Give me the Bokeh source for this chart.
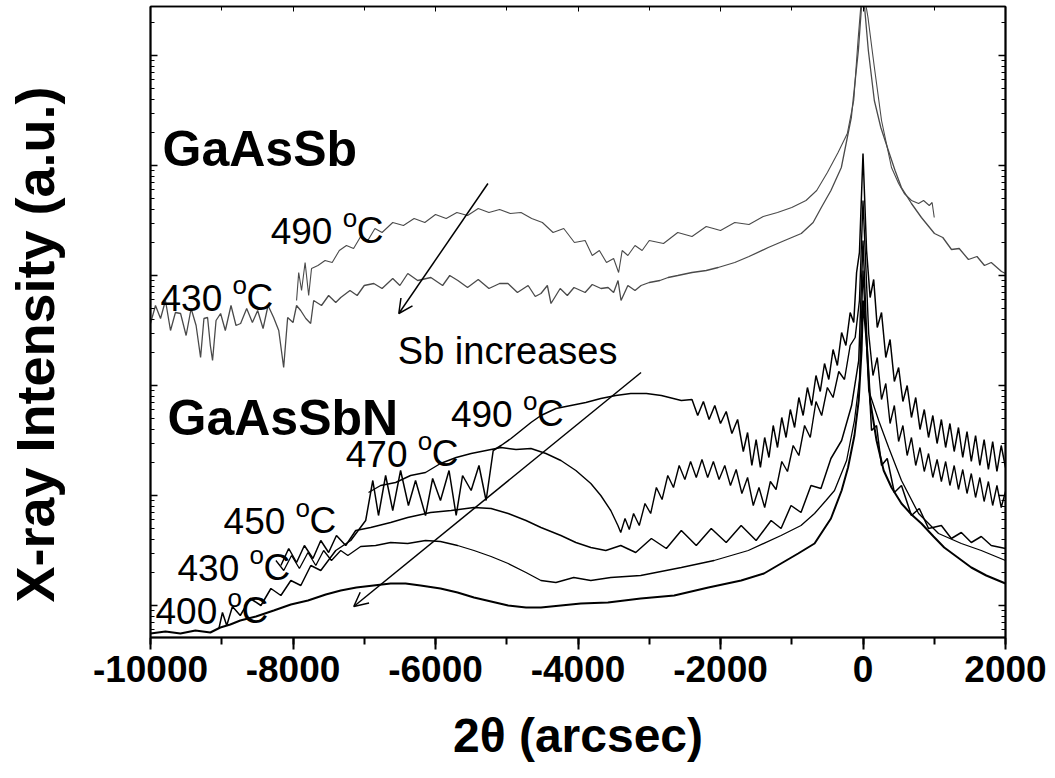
import numpy as np
from bokeh.plotting import figure
from bokeh.models import Range1d, LinearAxis, FixedTicker, Label, Arrow, OpenHead
from bokeh.embed import file_html
from bokeh.resources import INLINE

# ---------------- data (2theta in arcsec, intensity in a.u.) ----------------
GAASSB_490 = [(-7950,337),(-7920,365),(-7880,347),(-7830,375),(-7780,342),(-7740,369),(-7650,372),(-7550,377),
    (-7450,375),(-7350,387),(-7250,392),(-7150,389),(-7050,401),(-6950,397),(-6850,409),(-6750,405),(-6600,415),
    (-6450,412),(-6300,419),(-6150,415),(-6000,423),(-5850,419),(-5700,425),(-5550,422),(-5400,429),(-5250,425),
    (-5100,428),(-4950,424),(-4800,425),(-4650,419),(-4500,415),(-4350,405),(-4200,409),(-4050,395),(-3900,397),
    (-3800,382),(-3700,387),(-3600,375),(-3500,379),(-3430,365),(-3380,387),(-3300,382),(-3200,392),(-3100,387),
    (-3000,397),(-2800,394),(-2600,405),(-2400,401),(-2200,411),(-2000,407),(-1800,415),(-1600,413),(-1400,421),
    (-1200,425),(-1000,430),(-800,437),(-650,447),(-500,465),(-350,485),(-220,504),(-130,537),(-70,597),(-30,632),
    (0,667),(30,637),(70,620),(120,592),(160,570),(260,517),(400,470),(500,454),(580,444),(680,437),(780,434),
    (850,437),(930,432),(970,435),(1000,420)]

GAASSB_430 = [(-10000,314),(-9930,332),(-9859,319),(-9790,337),(-9719,307),(-9650,325),(-9578,324),(-9500,302),
    (-9430,329),(-9360,312),(-9297,280),(-9250,319),(-9199,320),(-9160,292),(-9129,277),(-9080,317),(-9016,324),
    (-8950,307),(-8870,332),(-8800,312),(-8735,314),(-8650,329),(-8570,315),(-8496,327),(-8420,309),(-8350,332),
    (-8272,320),(-8200,307),(-8131,270),(-8075,320),(-8000,315),(-7950,332),(-7892,327),(-7820,319),(-7752,314),
    (-7710,337),(-7600,332),(-7500,342),(-7400,335),(-7330,340),(-7200,347),(-7100,342),(-7000,352),(-6866,354),
    (-6750,349),(-6600,359),(-6500,352),(-6389,364),(-6250,357),(-6065,360),(-5900,352),(-5800,362),(-5686,357),
    (-5550,350),(-5400,358),(-5250,349),(-5100,354),(-4983,354),(-4850,345),(-4700,352),(-4600,341),(-4520,344),
    (-4430,352),(-4379,334),(-4250,349),(-4150,342),(-4056,350),(-3900,345),(-3800,353),(-3677,349),(-3578,350),
    (-3500,345),(-3438,357),(-3396,337),(-3300,352),(-3200,347),(-3115,352),(-3000,355),(-2850,357),(-2735,360),
    (-2600,362),(-2400,365),(-2200,367),(-2033,370),(-1800,375),(-1600,381),(-1330,390),(-1100,397),(-866,404),
    (-700,415),(-585,430),(-450,447),(-304,470),(-164,520),(-65,587),(-20,632),(0,677),(20,632),(75,587),(159,537),
    (250,510),(356,487),(450,467),(539,450),(680,434),(820,420),(1003,404),(1120,400),(1242,388),(1350,389),
    (1480,378),(1600,381),(1705,372),(1800,375),(1944,366),(2000,364)]

GAASSBN_490 = [(-9040,9),(-8990,25),(-8930,12),(-8850,31),(-8740,22),(-8600,39),(-8450,32),(-8310,49),(-8170,42),
    (-8030,57),(-7890,52),(-7750,72),(-7610,67),(-7400,87),(-7190,97),(-6980,117),(-6880,157),(-6800,122),(-6700,162),
    (-6600,127),(-6490,167),(-6380,132),(-6280,157),(-6140,122),(-6040,159),(-5930,137),(-5810,167),(-5710,122),
    (-5620,162),(-5500,147),(-5390,172),(-5290,137),(-5190,187),(-5080,192),(-4940,199),(-4800,207),(-4660,215),
    (-4520,222),(-4310,229),(-4100,232),(-3890,235),(-3680,239),(-3470,242),(-3260,244),(-3040,244),(-2830,242),
    (-2550,237),(-2400,238),(-2320,222),(-2240,236),(-2160,218),(-2080,232),(-2000,214),(-1920,226),(-1840,204),
    (-1760,218),(-1680,186),(-1620,205),(-1560,172),(-1500,198),(-1440,170),(-1380,200),(-1320,180),(-1260,212),
    (-1200,190),(-1140,220),(-1080,200),(-1020,228),(-960,210),(-900,240),(-840,222),(-780,250),(-720,232),
    (-660,262),(-600,246),(-540,274),(-480,258),(-420,288),(-360,272),(-300,305),(-240,292),(-180,325),(-130,315),
    (-90,365),(-50,385),(0,484),(50,387),(100,340),(150,358),(200,310),(260,325),(320,280),(380,298),(440,256),
    (500,270),(560,236),(620,252),(680,220),(740,240),(800,208),(860,228),(920,200),(980,222),(1040,194),(1100,218),
    (1160,190),(1220,214),(1280,186),(1340,210),(1400,180),(1460,206),(1520,176),(1580,202),(1640,172),(1700,198),
    (1760,168),(1820,196),(1880,166),(1940,192),(2000,170)]

GAASSBN_470 = [(-6940,145),(-6770,152),(-6560,155),(-6350,162),(-6140,165),(-5930,174),(-5710,180),(-5500,184),
    (-5290,187),(-5080,190),(-4870,188),(-4660,189),(-4450,184),(-4240,177),(-4030,167),(-3820,154),(-3680,142),
    (-3540,127),(-3440,112),(-3400,105),(-3340,119),(-3280,108),(-3220,124),(-3140,112),(-3060,134),(-2980,124),
    (-2900,150),(-2820,138),(-2740,162),(-2660,150),(-2580,172),(-2500,158),(-2420,176),(-2340,160),(-2260,178),
    (-2180,160),(-2100,176),(-2020,158),(-1940,172),(-1860,152),(-1780,168),(-1700,144),(-1620,160),(-1540,132),
    (-1460,150),(-1380,130),(-1300,156),(-1220,148),(-1140,176),(-1060,166),(-980,192),(-900,182),(-820,212),
    (-740,200),(-660,236),(-580,222),(-500,250),(-420,240),(-340,266),(-260,258),(-180,292),(-110,300),(-50,337),
    (0,437),(80,304),(140,262),(200,280),(260,238),(320,254),(380,214),(440,232),(500,196),(560,212),(620,182),
    (680,200),(740,172),(800,190),(860,166),(920,184),(980,160),(1040,178),(1100,156),(1160,176),(1220,152),
    (1280,172),(1340,148),(1400,168),(1460,144),(1520,164),(1580,140),(1640,160),(1700,136),(1760,156),(1820,132),
    (1880,152),(1940,130),(2000,146)]

GAASSBN_450 = [(-8170,72),(-8060,89),(-7950,75),(-7840,92),(-7720,79),(-7610,97),(-7500,85),(-7390,102),(-7260,92),
    (-7120,107),(-6910,110),(-6630,115),(-6390,120),(-6070,125),(-5780,127),(-5460,130),(-5220,129),(-4980,124),
    (-4730,117),(-4520,110),(-4240,102),(-4030,95),(-3820,90),(-3610,87),(-3400,92),(-3190,85),(-2970,99),(-2760,89),
    (-2550,107),(-2340,92),(-2130,109),(-1920,95),(-1710,112),(-1500,97),(-1290,117),(-1150,109),(-1010,132),
    (-870,125),(-730,152),(-590,149),(-450,179),(-300,197),(-160,232),(-60,277),(0,397),(60,287),(120,207),(190,212),
    (260,172),(340,179),(440,145),(540,152),(680,122),(790,129),(920,109),(1100,112),(1240,99),(1380,105),(1520,95),
    (1660,101),(1800,92),(2000,89)]

GAASSBN_430 = [(-8240,77),(-8130,67),(-8020,82),(-7910,69),(-7790,85),(-7680,72),(-7570,87),(-7460,77),(-7330,87),
    (-7230,82),(-7050,91),(-6840,92),(-6630,95),(-6390,94),(-6140,97),(-5930,96),(-5690,92),(-5460,87),(-5220,81),
    (-4980,74),(-4730,65),(-4520,57),(-4310,55),(-4060,60),(-3820,57),(-3540,60),(-3120,62),(-2550,70),(-2090,77),
    (-1610,87),(-1150,102),(-870,112),(-680,124),(-520,137),(-400,147),(-230,177),(-120,217),(-50,257),(0,367),
    (80,247),(220,217),(360,190),(540,157),(780,124),(1060,104),(1380,94),(1660,87),(2000,77)]

GAASSBN_400 = [(-10000,4),(-9790,6),(-9580,4),(-9370,7),(-9160,5),(-9020,10),(-8880,13),(-8740,17),(-8520,21),
    (-8270,27),(-8030,33),(-7790,37),(-7540,43),(-7330,47),(-7110,50),(-6870,52),(-6630,54),(-6420,54),(-6210,52),
    (-5930,49),(-5690,45),(-5460,40),(-5220,36),(-4980,32),(-4730,30),(-4520,30),(-4240,32),(-3960,34),(-3580,35),
    (-3120,39),(-2650,42),(-2170,50),(-1710,57),(-1390,64),(-1150,74),(-910,84),(-680,94),(-450,119),(-300,147),
    (-210,170),(-120,202),(-60,237),(-20,287),(0,337),(50,297),(100,237),(190,197),(290,167),(400,150),(540,134),
    (680,123),(820,114),(990,101),(1140,90),(1330,80),(1520,70),(1730,62),(2000,54)]

X_TICKS = [-10000, -8000, -6000, -4000, -2000, 0, 2000]
X_TICK_LABELS = ["-10000", "-8000", "-6000", "-4000", "-2000", "0", "2000"]
X_TITLE = "2\u03b8 (arcsec)"
Y_TITLE = "X-ray Intensity (a.u.)"

# label anchors (2theta, intensity) for the annotations
TEMP_LABELS = [("490", -8314, 407), ("430", -9859, 340), ("490", -5784, 224), ("470", -7260, 184),
               ("450", -8974, 117), ("430", -9621, 70), ("400", -9930, 27)]
GROUP_LABELS = [("GaAsSb", -9831, 489), ("GaAsSbN", -9761, 220)]
NOTE_LABEL = ("Sb increases", -6529, 287)
ARROWS = [(-5264, 454, -6515, 324), (-3115, 265, -7147, 31)]

SANS = "Liberation Sans"

p = figure(frame_width=855, frame_height=631, min_border_left=150, min_border_right=50,
           min_border_top=6, min_border_bottom=141, output_backend="svg", toolbar_location=None,
           x_range=Range1d(-10000, 2000), y_range=Range1d(0, 631))
p.background_fill_color = "white"
p.border_fill_color = "white"
p.outline_line_color = "black"
p.outline_line_width = 1.5
p.grid.visible = False

# bottom axis
xa = p.xaxis[0]
xa.ticker = FixedTicker(ticks=X_TICKS, minor_ticks=list(range(-10000, 2001, 1000)))
xa.major_label_overrides = {t: l for t, l in zip(X_TICKS, X_TICK_LABELS)}
xa.major_label_text_font = SANS
xa.major_label_text_font_style = "bold"
xa.major_label_text_font_size = "37px"
xa.major_label_text_color = "black"
xa.major_label_standoff = 6
xa.axis_line_width = 2
xa.major_tick_out = 12
xa.major_tick_in = 0
xa.minor_tick_out = 7
xa.minor_tick_in = 0
xa.major_tick_line_width = 2
xa.minor_tick_line_width = 2
xa.axis_label = X_TITLE
xa.axis_label_text_font = SANS
xa.axis_label_text_font_style = "bold"
xa.axis_label_text_font_size = "48px"
xa.axis_label_text_color = "black"
xa.axis_label_standoff = 24

# log-like y ticks (styling only)
dec = 110.0
bases = [-78 + dec * k for k in range(7)]
majors = [b for b in bases if 0 < b < 631]
minors = [b + dec * np.log10(m) for b in bases for m in range(2, 10)]
minors = [float(v) for v in minors if 0 < v < 631]
yt = FixedTicker(ticks=majors, minor_ticks=minors)

def hide_labels(ax):
    ax.major_label_text_font_size = "0px"
    ax.major_label_text_color = None
    ax.major_label_standoff = 0

def style_y(ax):
    ax.ticker = yt
    hide_labels(ax)
    ax.major_tick_in = 7
    ax.major_tick_out = 0
    ax.minor_tick_in = 4
    ax.minor_tick_out = 0
    ax.axis_line_width = 2
    ax.major_tick_line_width = 1.5

ya = p.yaxis[0]
style_y(ya)
ya.axis_label = Y_TITLE + "\u00a0\u00a0\u00a0"
ya.axis_label_text_font = SANS
ya.axis_label_text_font_style = "bold"
ya.axis_label_text_font_size = "54px"
ya.axis_label_text_color = "black"
ya.axis_label_standoff = 86

ry = LinearAxis()
style_y(ry)
p.add_layout(ry, "right")

ta = LinearAxis()
ta.ticker = FixedTicker(ticks=X_TICKS, minor_ticks=list(range(-10000, 2001, 1000)))
hide_labels(ta)
ta.major_tick_in = 5
ta.major_tick_out = 0
ta.minor_tick_in = 4
ta.minor_tick_out = 0
ta.axis_line_width = 1.5
p.add_layout(ta, "above")

def draw(series, color, width):
    xs, ys = zip(*series)
    p.line(list(xs), list(ys), line_color=color, line_width=width)

draw(GAASSB_430, "#4a4a4a", 1.3)
draw(GAASSB_490, "#4a4a4a", 1.1)
draw(GAASSBN_400, "black", 2.0)
draw(GAASSBN_430, "black", 1.3)
draw(GAASSBN_450, "black", 1.5)
draw(GAASSBN_470, "black", 1.4)
draw(GAASSBN_490, "black", 1.5)

for xs, ys, xe, ye in ARROWS:
    p.add_layout(Arrow(x_start=xs, y_start=ys, x_end=xe, y_end=ye, line_width=1.5, line_color="black",
                       end=OpenHead(size=14, line_width=1.5, line_color="black")))

for t, x, y in TEMP_LABELS:
    p.add_layout(Label(x=x, y=y, text=t, text_font=SANS, text_font_size="37px", text_color="black",
                       text_baseline="alphabetic"))
    p.add_layout(Label(x=x, y=y + 13, x_offset=72, text="o", text_font=SANS, text_font_size="26px",
                       text_color="black", text_baseline="alphabetic"))
    p.add_layout(Label(x=x, y=y, x_offset=86, text="C", text_font=SANS, text_font_size="37px",
                       text_color="black", text_baseline="alphabetic"))

for t, x, y in GROUP_LABELS:
    p.add_layout(Label(x=x, y=y, text=t, text_font=SANS, text_font_size="50px", text_font_style="bold",
                       text_color="black", text_baseline="alphabetic"))

t, x, y = NOTE_LABEL
p.add_layout(Label(x=x, y=y, text=t, text_font=SANS, text_font_size="38px", text_color="black",
                   text_baseline="alphabetic"))

open("out.html", "w").write(file_html(p, INLINE))
